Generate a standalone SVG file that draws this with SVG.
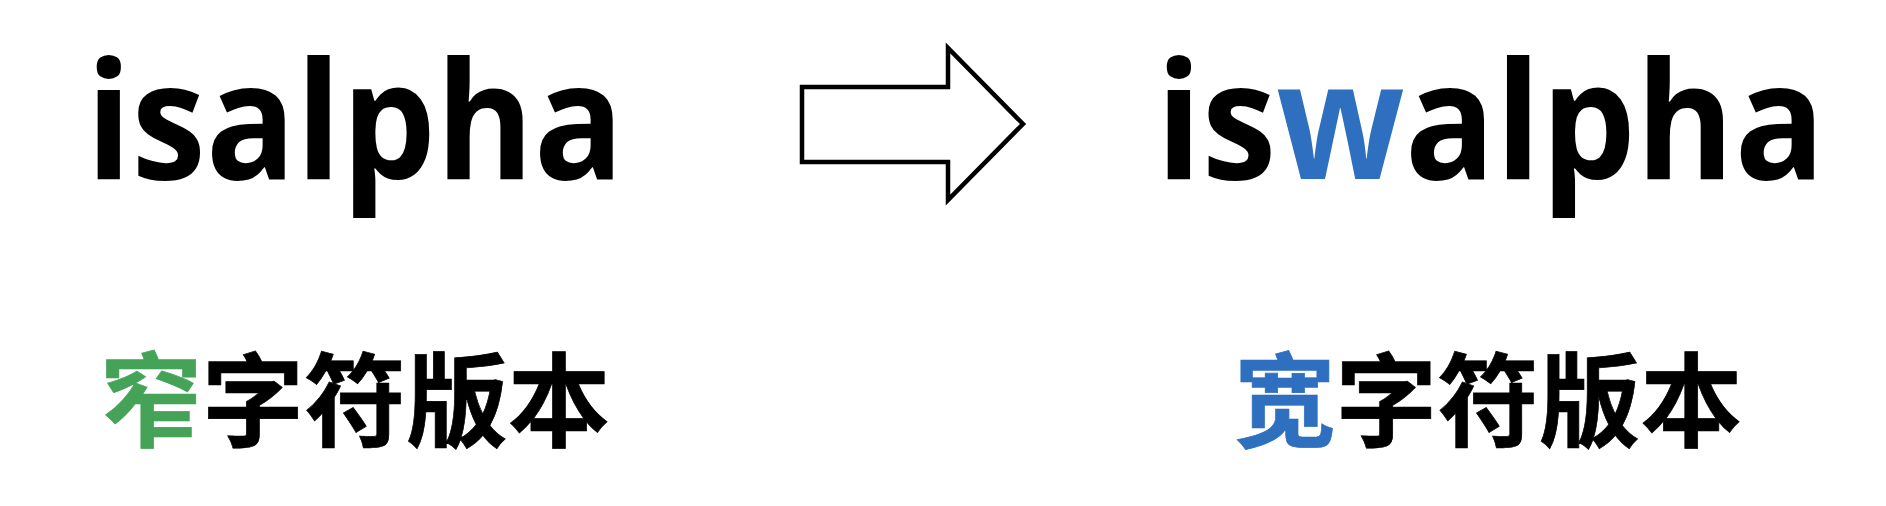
<svg xmlns="http://www.w3.org/2000/svg" width="1886" height="506" viewBox="0 0 1886 506">
<style>
.word{font-family:"Open Sans","Noto Sans","Liberation Sans",sans-serif;font-weight:700;font-size:164px;fill:#000}
.cjk{font-family:"Noto Sans CJK SC","Noto Sans",sans-serif;font-weight:700;font-size:102px;fill:#000;stroke:#000;stroke-width:0.7}
.green{fill:#45A358;stroke:#45A358}
.blue{fill:#2E6FC0}
.cjk .blue{stroke:#2E6FC0}
.arrow{fill:#fff;stroke:#000;stroke-width:4.5;stroke-linejoin:miter}
</style>
<rect width="1886" height="506" fill="#fff"/>
<g id="narrow-func">
<text class="word" x="86" y="179" textLength="538" lengthAdjust="spacingAndGlyphs">isalpha</text>
</g>
<g id="narrow-label">
<text class="cjk" x="100" y="439" textLength="510" lengthAdjust="spacingAndGlyphs"><tspan class="green">窄</tspan>字符版本</text>
</g>
<g id="wide-func">
<text class="word" x="1156" y="179" textLength="669" lengthAdjust="spacingAndGlyphs">is<tspan class="blue">w</tspan>alpha</text>
</g>
<g id="wide-label">
<text class="cjk" x="1234" y="439" textLength="508" lengthAdjust="spacingAndGlyphs"><tspan class="blue">宽</tspan>字符版本</text>
</g>
<g id="connectors">
<path class="arrow" d="M802,87 H948 V48 L1023,124 L948,200 V162 H802 Z"/>
</g>
</svg>
